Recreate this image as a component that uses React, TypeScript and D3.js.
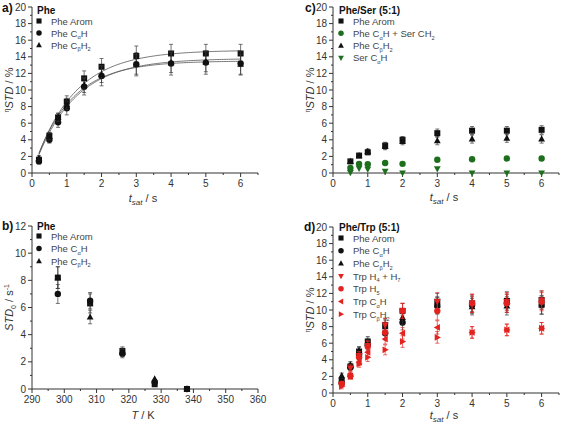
import React from "react";
import * as d3 from "d3";

// ---------- DATA ----------
const aX = [0.2, 0.5, 0.75, 1, 1.5, 2, 3, 4, 5, 6];
const aArom = [1.6, 4.5, 6.7, 8.6, 11.4, 12.8, 14.1, 14.4, 14.4, 14.4];
const aAromErr = [0.3, 0.4, 0.5, 0.7, 0.9, 1.0, 1.2, 1.1, 1.1, 1.1];
const aCaH = [1.4, 4.0, 6.1, 7.8, 10.4, 11.7, 13.1, 13.2, 13.3, 13.2];
const aCaHErr = [0.3, 0.4, 0.6, 0.8, 1.0, 1.2, 1.4, 1.4, 1.4, 1.4];
const aCbH2 = [1.8, 4.4, 6.7, 8.3, 10.6, 11.9, 13.1, 13.3, 13.4, 13.1];
const aCbH2Err = [0.3, 0.4, 0.5, 0.7, 0.9, 1.0, 1.2, 1.2, 1.2, 1.2];
// mono-exponential fit parameters: STD(t) = A (1 - exp(-k t))
const fitA = [14.8, 13.8, 13.5];
const fitK = [0.87, 0.87, 0.95];

const bX = [298, 308, 318, 328, 338];
const bArom = [8.2, 6.3, 2.8, 0.35, 0.0];
const bAromErr = [0.8, 0.7, 0.3, 0.1, 0.05];
const bCaH = [7.0, 6.5, 2.6, 0.5, 0.0];
const bCaHErr = [0.7, 0.6, 0.3, 0.1, 0.05];
const bCbH2 = [8.2, 5.3, 2.7, 0.75, 0.0];
const bCbH2Err = [0.8, 0.5, 0.3, 0.1, 0.05];

const cX = [0.5, 0.75, 1, 1.5, 2, 3, 4, 5, 6];
const cArom = [1.4, 2.1, 2.5, 3.3, 4.0, 4.8, 5.1, 5.1, 5.2];
const cAromErr = [0.2, 0.2, 0.3, 0.4, 0.4, 0.5, 0.5, 0.5, 0.5];
const cCaHSer = [0.6, 1.1, 1.05, 1.2, 1.1, 1.6, 1.65, 1.75, 1.75];
const cCaHSerErr = [0.05, 0.05, 0.05, 0.05, 0.05, 0.05, 0.05, 0.05, 0.05];
const cCbH2 = [1.4, 2.1, 2.6, 3.2, 3.8, 3.9, 4.1, 4.2, 4.1];
const cCbH2Err = [0.2, 0.2, 0.3, 0.4, 0.4, 0.5, 0.5, 0.5, 0.5];
const cSerCaH = [0.05, 0.55, 0.45, 0.2, 0.0, 0.5, 0.0, 0.0, 0.0];
const cSerCaHErr = [0.05, 0.05, 0.05, 0.05, 0.05, 0.05, 0.05, 0.05, 0.05];

const dX = [0.25, 0.5, 0.75, 1, 1.5, 2, 3, 4, 5, 6];
const dArom = [1.5, 3.2, 5.0, 6.2, 8.2, 9.9, 11.0, 10.8, 11.1, 11.2];
const dAromErr = [0.3, 0.4, 0.5, 0.6, 0.8, 0.9, 1.0, 1.0, 1.1, 1.1];
const dCaH = [1.2, 3.1, 4.6, 5.8, 7.2, 8.5, 10.5, 10.6, 10.8, 10.6];
const dCaHErr = [0.3, 0.4, 0.5, 0.6, 0.8, 0.9, 1.0, 1.0, 1.1, 1.1];
const dCbH2 = [2.1, 3.4, 5.1, 6.0, 8.0, 9.1, 10.6, 10.4, 10.5, 10.6];
const dCbH2Err = [0.3, 0.4, 0.5, 0.6, 0.8, 0.9, 1.0, 1.0, 1.1, 1.1];
const dTrpH47 = [1.0, 3.0, 4.5, 5.7, 8.2, 9.9, 11.0, 10.8, 11.0, 11.2];
const dTrpH47Err = [0.3, 0.4, 0.5, 0.6, 0.8, 0.9, 1.1, 1.1, 1.1, 1.1];
const dTrpH5 = [1.1, 2.1, 4.3, 5.6, 7.3, 9.9, 9.9, 10.8, 10.8, 11.0];
const dTrpH5Err = [0.3, 0.4, 0.5, 0.6, 0.8, 0.9, 1.1, 1.1, 1.1, 1.1];
const dTrpCaH = [1.1, 2.0, 3.7, 4.9, 6.5, 7.2, 7.9, 7.3, 7.6, 7.8];
const dTrpCaHErr = [0.3, 0.3, 0.4, 0.5, 0.6, 0.7, 0.8, 0.7, 0.7, 0.7];
const dTrpCbH2 = [0.8, 2.0, 3.5, 4.3, 5.2, 6.2, 6.7, 7.3, 7.6, 7.8];
const dTrpCbH2Err = [0.3, 0.3, 0.4, 0.5, 0.6, 0.7, 0.7, 0.7, 0.7, 0.7];

const ticks0to6 = [0, 1, 2, 3, 4, 5, 6];
const ticksTemp = [290, 300, 310, 320, 330, 340, 350, 360];
const ticks0to20 = [0, 2, 4, 6, 8, 10, 12, 14, 16, 18, 20];
const ticks0to12 = [0, 2, 4, 6, 8, 10, 12];

const nameArom = "Phe Arom";
const nameCaH = "Phe C_{α}H";
const nameCbH2 = "Phe C_{β}H_{2}";

// ---------- STYLE ----------
const BLACK = "#111";
const GREEN = "#1d6f1d";
const RED = "#e3231f";
const FONT = "'Liberation Sans', Arial, sans-serif";

type Series = { name: string; marker: string; color: string; x: number[]; y: number[]; err: number[] };

function Rich({ s, x, y, size, fill, anchor, bold }: any) {
  const parts: { t: string; sub: boolean }[] = [];
  const re = /_\{([^}]*)\}/g;
  let last = 0;
  let m: RegExpExecArray | null;
  while ((m = re.exec(s))) {
    if (m.index > last) parts.push({ t: s.slice(last, m.index), sub: false });
    parts.push({ t: m[1], sub: true });
    last = m.index + m[0].length;
  }
  if (last < s.length) parts.push({ t: s.slice(last), sub: false });
  let cur = 0;
  return (
    <text x={x} y={y} fontSize={size} fill={fill} fontFamily={FONT} textAnchor={anchor || "start"} fontWeight={bold ? "bold" : "normal"}>
      {parts.map((p, i) => {
        const target = p.sub ? size * 0.3 : 0;
        const dy = target - cur;
        cur = target;
        return (
          <tspan key={i} dy={dy} fontSize={p.sub ? size * 0.6 : size}>
            {p.t}
          </tspan>
        );
      })}
    </text>
  );
}

function Marker({ type, cx, cy, color, k = 1 }: any) {
  const s = 3 * k;
  if (type === "square") return <rect x={cx - s} y={cy - s} width={2 * s} height={2 * s} fill={color} />;
  if (type === "circle") return <circle cx={cx} cy={cy} r={s + 0.2} fill={color} />;
  let pts: number[][] = [];
  if (type === "up") pts = [[0, -3.6], [3.4, 2.6], [-3.4, 2.6]];
  if (type === "down") pts = [[0, 3.6], [3.4, -2.6], [-3.4, -2.6]];
  if (type === "left") pts = [[-3.6, 0], [2.6, -3.4], [2.6, 3.4]];
  if (type === "right") pts = [[3.6, 0], [-2.6, -3.4], [-2.6, 3.4]];
  return <polygon points={pts.map((p) => `${cx + p[0] * k},${cy + p[1] * k}`).join(" ")} fill={color} />;
}

function Panel(p: any) {
  const x = d3.scaleLinear().domain(p.xDomain).range([p.left, p.right]);
  const y = d3.scaleLinear().domain(p.yDomain).range([p.bottom, p.top]);
  const axisColor = "#333";
  const xMinor: number[] = [];
  for (let i = 0; i < p.xTicks.length - 1; i++) xMinor.push((p.xTicks[i] + p.xTicks[i + 1]) / 2);
  if (p.xDomain[1] > p.xTicks[p.xTicks.length - 1]) xMinor.push(p.xTicks[p.xTicks.length - 1] + (p.xTicks[1] - p.xTicks[0]) / 2);
  const yMinor: number[] = [];
  for (let i = 0; i < p.yTicks.length - 1; i++) yMinor.push((p.yTicks[i] + p.yTicks[i + 1]) / 2);
  return (
    <g>
      {p.fits &&
        p.fits.A.map((A: number, i: number) => {
          const k = p.fits.k[i];
          const ts = d3.range(0.2, 6.001, 0.05);
          const l = d3
            .line<number>()
            .x((t) => x(t))
            .y((t) => y(A * (1 - Math.exp(-k * t))))
            .curve(d3.curveMonotoneX);
          return <path key={i} d={l(ts) || ""} fill="none" stroke="#555" strokeWidth={0.8} />;
        })}
      <line x1={p.left} x2={p.left} y1={p.top} y2={p.bottom} stroke={axisColor} strokeWidth={1} />
      <line x1={p.left} x2={p.right} y1={p.bottom} y2={p.bottom} stroke={axisColor} strokeWidth={1} />
      {p.xTicks.map((t: number) => (
        <g key={"xt" + t}>
          <line x1={x(t)} x2={x(t)} y1={p.bottom} y2={p.bottom + 4} stroke={axisColor} />
          <text x={x(t)} y={p.bottom + 14} fontSize={10} fill="#333" fontFamily={FONT} textAnchor="middle">
            {t}
          </text>
        </g>
      ))}
      {xMinor.map((t) => (
        <line key={"xm" + t} x1={x(t)} x2={x(t)} y1={p.bottom} y2={p.bottom + 2} stroke={axisColor} />
      ))}
      {p.yTicks.map((t: number) => (
        <g key={"yt" + t}>
          <line x1={p.left - 4} x2={p.left} y1={y(t)} y2={y(t)} stroke={axisColor} />
          <text x={p.left - 6} y={y(t) + 3.5} fontSize={10} fill="#333" fontFamily={FONT} textAnchor="end">
            {t}
          </text>
        </g>
      ))}
      {yMinor.map((t) => (
        <line key={"ym" + t} x1={p.left - 2} x2={p.left} y1={y(t)} y2={y(t)} stroke={axisColor} />
      ))}
      {p.series.map((s: Series, si: number) => (
        <g key={"s" + si}>
          {s.x.map((xv, i) => {
            const cx = x(xv);
            const e = s.err[i];
            return (
              <g key={i}>
                {e > 0.1 && (
                  <g stroke={s.color === BLACK ? "#333" : s.color} strokeWidth={0.8} opacity={0.85}>
                    <line x1={cx} x2={cx} y1={y(s.y[i] - e)} y2={y(s.y[i] + e)} />
                    <line x1={cx - 2} x2={cx + 2} y1={y(s.y[i] - e)} y2={y(s.y[i] - e)} />
                    <line x1={cx - 2} x2={cx + 2} y1={y(s.y[i] + e)} y2={y(s.y[i] + e)} />
                  </g>
                )}
              </g>
            );
          })}
          {s.x.map((xv, i) => (
            <Marker key={"m" + i} type={s.marker} cx={x(xv)} cy={y(s.y[i])} color={s.color} />
          ))}
        </g>
      ))}
      <text x={p.legX - 2} y={p.legTitleY} fontSize={10} fontWeight="bold" fill="#111" fontFamily={FONT}>
        {p.legTitle}
      </text>
      {p.series.map((s: Series, i: number) => {
        const ly = p.legY0 + i * p.legDy;
        return (
          <g key={"l" + i}>
            <Marker type={s.marker} cx={p.legX} cy={ly} color={s.color} k={0.85} />
            <Rich s={s.name} x={p.legX + 12} y={ly + 3.5} size={9.5} fill="#444" />
          </g>
        );
      })}
      <text x={p.labX} y={p.labY} fontSize={12} fontWeight="bold" fill="#111" fontFamily={FONT}>
        {p.label}
      </text>
      {p.xTitle === "tsat" ? (
        <text x={(p.left + p.right) / 2 - 2} y={p.bottom + p.xTitleDy} fontSize={11} fill="#333" fontFamily={FONT} textAnchor="middle">
          <tspan fontStyle="italic">t</tspan>
          <tspan fontStyle="italic" fontSize={8} dy={3}>
            sat
          </tspan>
          <tspan dy={-3}> / s</tspan>
        </text>
      ) : (
        <text x={(p.left + p.right) / 2 - 2} y={p.bottom + p.xTitleDy} fontSize={11} fill="#333" fontFamily={FONT} textAnchor="middle">
          <tspan fontStyle="italic">T</tspan>
          <tspan> / K</tspan>
        </text>
      )}
      {p.yTitle === "eta" ? (
        <text
          transform={`translate(${p.left - 19},${(p.top + p.bottom) / 2}) rotate(-90)`}
          fontSize={11}
          fill="#333"
          fontFamily={FONT}
          textAnchor="middle"
        >
          <tspan fontSize={7} dy={-4}>
            η
          </tspan>
          <tspan fontStyle="italic" dy={4}>
            STD
          </tspan>
          <tspan> / %</tspan>
        </text>
      ) : (
        <text
          transform={`translate(${p.left - 19},${(p.top + p.bottom) / 2}) rotate(-90)`}
          fontSize={11}
          fill="#333"
          fontFamily={FONT}
          textAnchor="middle"
        >
          <tspan fontStyle="italic">STD</tspan>
          <tspan fontSize={7} dy={3}>
            0
          </tspan>
          <tspan dy={-3}> / s</tspan>
          <tspan fontSize={7} dy={-4}>
            -1
          </tspan>
        </text>
      )}
    </g>
  );
}

export default function App() {
  const seriesA: Series[] = [
    { name: nameArom, marker: "square", color: BLACK, x: aX, y: aArom, err: aAromErr },
    { name: nameCaH, marker: "circle", color: BLACK, x: aX, y: aCaH, err: aCaHErr },
    { name: nameCbH2, marker: "up", color: BLACK, x: aX, y: aCbH2, err: aCbH2Err },
  ];
  const seriesB: Series[] = [
    { name: nameArom, marker: "square", color: BLACK, x: bX, y: bArom, err: bAromErr },
    { name: nameCaH, marker: "circle", color: BLACK, x: bX, y: bCaH, err: bCaHErr },
    { name: nameCbH2, marker: "up", color: BLACK, x: bX, y: bCbH2, err: bCbH2Err },
  ];
  const seriesC: Series[] = [
    { name: nameArom, marker: "square", color: BLACK, x: cX, y: cArom, err: cAromErr },
    { name: "Phe C_{α}H + Ser CH_{2}", marker: "circle", color: GREEN, x: cX, y: cCaHSer, err: cCaHSerErr },
    { name: nameCbH2, marker: "up", color: BLACK, x: cX, y: cCbH2, err: cCbH2Err },
    { name: "Ser C_{α}H", marker: "down", color: GREEN, x: cX, y: cSerCaH, err: cSerCaHErr },
  ];
  const seriesD: Series[] = [
    { name: nameArom, marker: "square", color: BLACK, x: dX, y: dArom, err: dAromErr },
    { name: nameCaH, marker: "circle", color: BLACK, x: dX, y: dCaH, err: dCaHErr },
    { name: nameCbH2, marker: "up", color: BLACK, x: dX, y: dCbH2, err: dCbH2Err },
    { name: "Trp H_{4} + H_{7}", marker: "down", color: RED, x: dX, y: dTrpH47, err: dTrpH47Err },
    { name: "Trp H_{5}", marker: "circle", color: RED, x: dX, y: dTrpH5, err: dTrpH5Err },
    { name: "Trp C_{α}H", marker: "left", color: RED, x: dX, y: dTrpCaH, err: dTrpCaHErr },
    { name: "Trp C_{β}H_{2}", marker: "right", color: RED, x: dX, y: dTrpCbH2, err: dTrpCbH2Err },
  ];
  return (
    <svg width={561} height={425} style={{ position: "absolute", left: 0, top: 0, background: "#fff" }}>
      <Panel
        left={32} right={258} top={7} bottom={173} xDomain={[0, 6.5]} yDomain={[0, 20]}
        xTicks={ticks0to6} yTicks={ticks0to20} series={seriesA} fits={{ A: fitA, k: fitK }}
        legTitle="Phe" legTitleY={14} legX={39} legY0={21} legDy={12}
        label="a)" labX={2} labY={12} xTitle="tsat" xTitleDy={29} yTitle="eta"
      />
      <Panel
        left={32} right={258} top={226} bottom={389} xDomain={[290, 360]} yDomain={[0, 12]}
        xTicks={ticksTemp} yTicks={ticks0to12} series={seriesB}
        legTitle="Phe" legTitleY={230} legX={39} legY0={236} legDy={12.5}
        label="b)" labX={2} labY={230} xTitle="T" xTitleDy={30} yTitle="std0"
      />
      <Panel
        left={333} right={559} top={7} bottom={173} xDomain={[0, 6.5]} yDomain={[0, 20]}
        xTicks={ticks0to6} yTicks={ticks0to20} series={seriesC}
        legTitle="Phe/Ser (5:1)" legTitleY={14} legX={341} legY0={21} legDy={12.3}
        label="c)" labX={305} labY={12} xTitle="tsat" xTitleDy={28} yTitle="eta"
      />
      <Panel
        left={333} right={559} top={227} bottom={393} xDomain={[0, 6.5]} yDomain={[0, 20]}
        xTicks={ticks0to6} yTicks={ticks0to20} series={seriesD}
        legTitle="Phe/Trp (5:1)" legTitleY={231} legX={341} legY0={238} legDy={12.7}
        label="d)" labX={304} labY={231} xTitle="tsat" xTitleDy={26} yTitle="eta"
      />
    </svg>
  );
}
